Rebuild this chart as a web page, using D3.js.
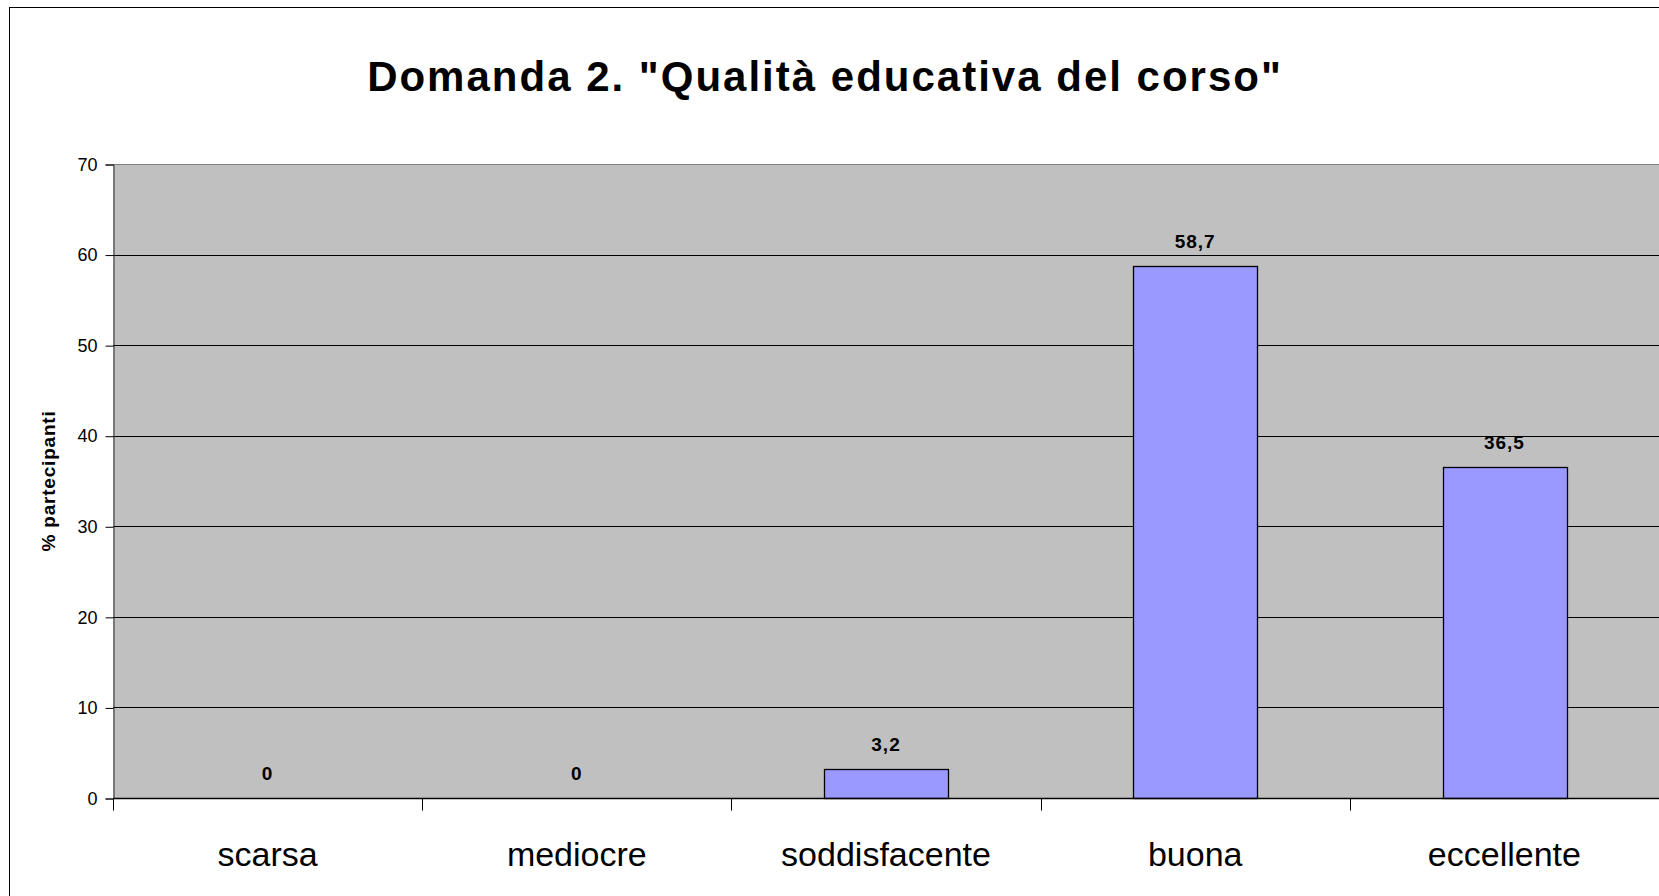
<!DOCTYPE html>
<html>
<head>
<meta charset="utf-8">
<script src="https://cdn.jsdelivr.net/npm/d3@7"></script>
<style>
  html, body { margin: 0; padding: 0; background: #fff; overflow: hidden; }
  svg { display: block; }
  text { font-family: "Liberation Sans", Arial, sans-serif; }
</style>
</head>
<body>
<svg id="chart" width="1659" height="896"></svg>
<script>
const title = 'Domanda 2. "Qualità educativa del corso"';
const yAxisTitle = "% partecipanti";
const categories = ["scarsa", "mediocre", "soddisfacente", "buona", "eccellente"];
const values = [0, 0, 3.2, 58.7, 36.5];
const valueLabels = ["0", "0", "3,2", "58,7", "36,5"];
const yTicks = [0, 10, 20, 30, 40, 50, 60, 70];

const svg = d3.select("#chart");
const W = 1659, H = 896;
const plot = { left: 113, top: 164, right: 1659, bottom: 798 };

svg.append("rect").attr("x", 0).attr("y", 0).attr("width", W).attr("height", H).attr("fill", "#fff");
// outer chart border (only left/top visible)
svg.append("rect").attr("x", 9.5).attr("y", 7.5).attr("width", 1800).attr("height", 1000)
  .attr("fill", "none").attr("stroke", "#000").attr("stroke-width", 1);

const x = d3.scaleBand().domain(categories).range([plot.left, plot.right]).paddingInner(0).paddingOuter(0);
const y = d3.scaleLinear().domain([0, 70]).range([plot.bottom, plot.top]);

// plot background
svg.append("rect").attr("x", plot.left).attr("y", plot.top)
  .attr("width", plot.right - plot.left).attr("height", plot.bottom - plot.top)
  .attr("fill", "#C0C0C0");

// gridlines
svg.append("g").selectAll("line").data(yTicks.filter(d => d > 0)).join("line")
  .attr("x1", plot.left).attr("x2", plot.right)
  .attr("y1", d => Math.round(y(d)) + 0.5).attr("y2", d => Math.round(y(d)) + 0.5)
  .attr("stroke", d => d === 70 ? "#808080" : "#000").attr("stroke-width", 1);

// bars
const bw = x.bandwidth() * 0.4;
svg.append("g").selectAll("rect").data(categories.map((c, i) => ({ c, v: values[i] })).filter(d => d.v > 0)).join("rect")
  .attr("x", d => Math.round(x(d.c) + (x.bandwidth() - bw) / 2) + 0.5)
  .attr("y", d => Math.round(y(d.v)) + 0.5)
  .attr("width", Math.round(bw))
  .attr("height", d => Math.round(y(0)) - Math.round(y(d.v)))
  .attr("fill", "#9999FF").attr("stroke", "#000").attr("stroke-width", 1.3);

// y axis
const yAxis = d3.axisLeft(y).tickValues(yTicks).tickSize(8).tickPadding(8).tickFormat(d3.format("d"));
const gy = svg.append("g").attr("transform", `translate(${plot.left + 0.5},0.5)`).call(yAxis);
gy.select(".domain").attr("stroke", "#333");
gy.selectAll(".tick line").attr("stroke", "#000");
gy.selectAll("text").attr("font-size", 18).attr("fill", "#000").attr("font-family", "Liberation Sans, Arial, sans-serif");

// x axis
const gx = svg.append("g").attr("transform", `translate(0,${plot.bottom + 0.5})`);
gx.append("line").attr("x1", plot.left).attr("x2", plot.right).attr("y1", 0).attr("y2", 0).attr("stroke", "#000").attr("stroke-width", 1.3);
gx.selectAll("line.tk").data(categories).join("line").attr("class", "tk")
  .attr("x1", d => Math.round(x(d)) + 0.5).attr("x2", d => Math.round(x(d)) + 0.5)
  .attr("y1", 0).attr("y2", 12).attr("stroke", "#000");
gx.selectAll("text").data(categories).join("text")
  .attr("x", d => x(d) + x.bandwidth() / 2).attr("y", 67)
  .attr("text-anchor", "middle").attr("font-size", 34).attr("fill", "#000")
  .text(d => d);

// value labels
svg.append("g").selectAll("text").data(categories.map((c, i) => ({ c, v: values[i], l: valueLabels[i] }))).join("text")
  .attr("x", d => x(d.c) + x.bandwidth() / 2)
  .attr("y", d => y(d.v) - 18)
  .attr("text-anchor", "middle").attr("font-size", 19).attr("font-weight", "bold")
  .attr("letter-spacing", 1).attr("fill", "#000")
  .text(d => d.l);

// y axis title
svg.append("text").attr("transform", `translate(55,${(plot.top + plot.bottom) / 2}) rotate(-90)`)
  .attr("text-anchor", "middle").attr("font-size", 19).attr("font-weight", "bold")
  .attr("letter-spacing", 0.8).attr("fill", "#000")
  .text(yAxisTitle);

// title
svg.append("text").attr("x", 825).attr("y", 91)
  .attr("text-anchor", "middle").attr("font-size", 42).attr("font-weight", "bold")
  .attr("letter-spacing", 2).attr("fill", "#000")
  .text(title);
</script>
</body>
</html>
